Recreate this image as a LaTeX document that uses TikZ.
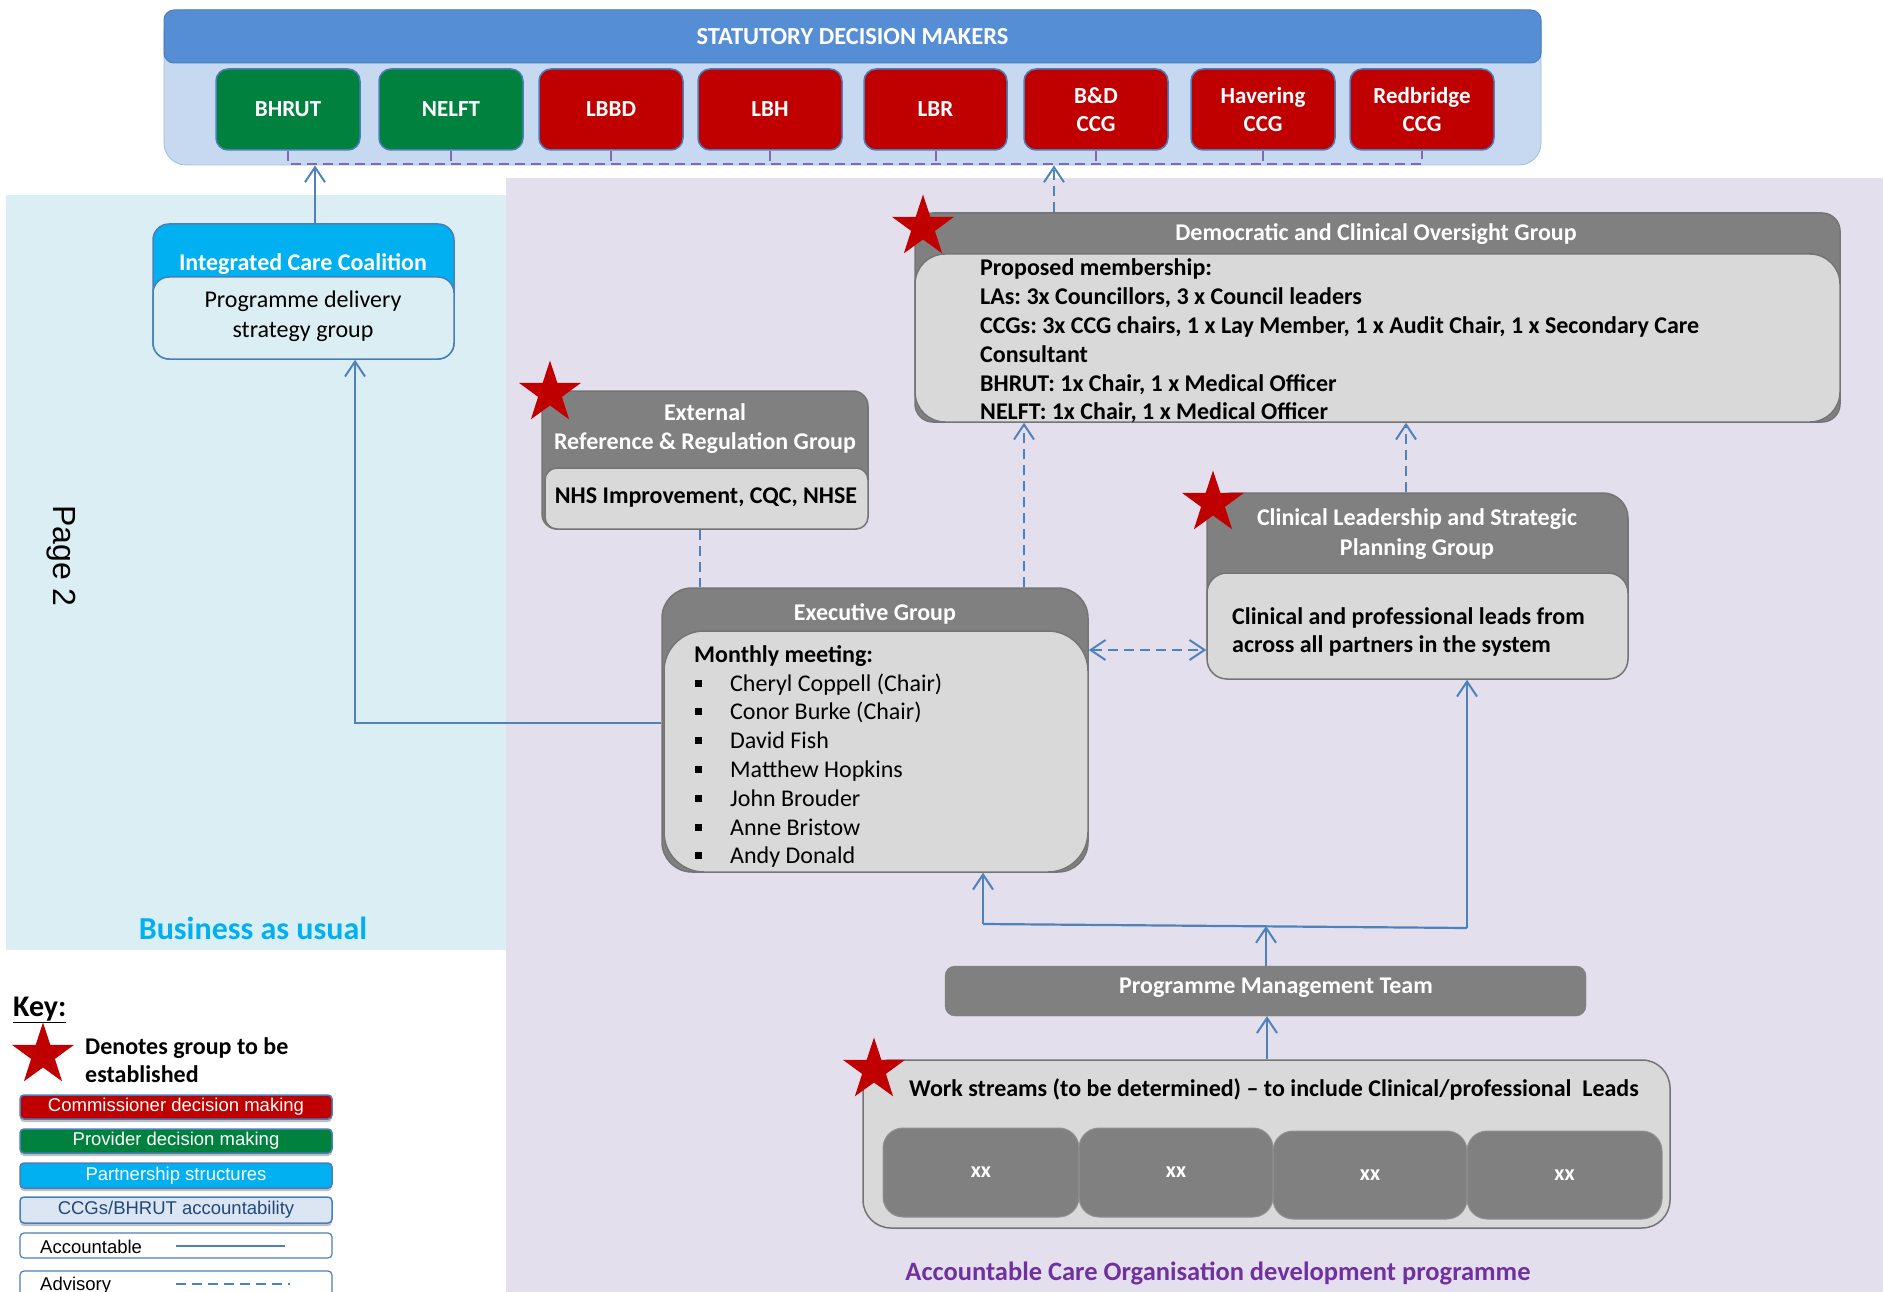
\documentclass[tikz,border=0pt]{standalone}
\usepackage{fontspec}
\setmainfont{Carlito}
\newfontfamily\arialf{Liberation Sans}
\usetikzlibrary{arrows.meta,shapes.geometric,shadows}
\frenchspacing
\definecolor{hdrblue}{HTML}{558ED5}
\definecolor{bannerlight}{HTML}{C6D9F1}
\definecolor{boxgreen}{HTML}{00823E}
\definecolor{boxred}{HTML}{C00000}
\definecolor{edgeblue}{HTML}{4A7EBB}
\definecolor{bauback}{HTML}{DBEEF4}
\definecolor{acoback}{HTML}{E4DFEC}
\definecolor{hdrgray}{HTML}{808080}
\definecolor{innergray}{HTML}{D9D9D9}
\definecolor{edgegray}{HTML}{747474}
\definecolor{cyanfill}{HTML}{00B0F0}
\definecolor{linkblue}{HTML}{4F81BD}
\definecolor{advpurple}{HTML}{7F6AAE}
\definecolor{acopurple}{HTML}{7030A0}
\definecolor{starred}{HTML}{C00000}
\definecolor{ccgfill}{HTML}{DCE6F2}
\definecolor{ccgtext}{HTML}{1F497D}
\newcommand\txtreg{\fontsize{24}{29}\selectfont}
\newcommand\txtbold{\fontsize{24}{29}\selectfont\bfseries}
\newcommand\keyfont{\arialf\fontsize{18.5}{22}\selectfont}
\newcommand\placebox[7]{\node[#6, inner sep=0pt, minimum width={(#4-#2)*1pt}, minimum height={(#5-#3)*1pt}] (#1) at ({(#2+#4)/2},{(#3+#5)/2}) {#7};}
\newcommand\sqbullet{\rule[4.5pt]{7pt}{7pt}}
\tikzset{
  bannerbox/.style={draw=edgeblue, line width=1.5pt, rounded corners=12pt, text=white, font=\fontsize{23}{28}\selectfont\bfseries, align=center},
  greenbox/.style={bannerbox, fill=boxgreen},
  redbox/.style={bannerbox, fill=boxred},
  grayhead/.style={fill=hdrgray, draw=edgegray, line width=1.5pt},
  grayin/.style={fill=innergray, draw=edgegray, line width=1.5pt},
  hdrtext/.style={text=white, font=\txtbold, inner sep=0pt, anchor=base},
  ctext/.style={text=black, font=\txtreg, inner sep=0pt, anchor=base},
  bodytext/.style={text=black, font=\txtreg, inner sep=0pt, anchor=base west},
  boldtext/.style={text=black, font=\txtbold, inner sep=0pt, anchor=base west},
  linkline/.style={draw=linkblue, line width=2.2pt},
  acc/.style={linkline, -{Straight Barb[length=15pt,width=20pt,line width=2pt]}},
  adv/.style={acc, dash pattern=on 10pt off 6pt},
  advboth/.style={linkline, dash pattern=on 10pt off 6pt, {Straight Barb[length=15pt,width=20pt,line width=2pt]}-{Straight Barb[length=15pt,width=20pt,line width=2pt]}},
  advline/.style={linkline, dash pattern=on 10pt off 6pt},
  bandash/.style={draw=advpurple, line width=2pt, dash pattern=on 10pt off 6pt},
  redstar/.style={star, star points=5, star point ratio=2.6, fill=starred, draw=none, minimum size=65pt, inner sep=0pt},
  keybox/.style={draw=edgeblue, line width=1.5pt, rounded corners=4pt, font=\keyfont},
  keyshadow/.style={drop shadow={shadow xshift=0pt, shadow yshift=-3pt, opacity=0.25, fill=black}},
  xxbox/.style={fill=hdrgray, draw=hdrgray!80!innergray, line width=1pt, rounded corners=20pt, text=white, font=\fontsize{22}{26}\selectfont\bfseries},
}
\begin{document}
\begin{tikzpicture}[x=1pt,y=-1pt]
\useasboundingbox (0,0) rectangle (1883,1292);
\fill[white] (0,0) rectangle (1883,1292);
% background regions
\fill[bauback] (6,195) rectangle (506,950);
\fill[acoback] (506,178) rectangle (1883,1292);

% statutory banner
\placebox{banner}{164}{10}{1541}{165}{fill=bannerlight, draw=bannerlight!70!edgeblue, line width=0.8pt, rounded corners=22pt}{}
\placebox{bannerhdr}{164}{10}{1541}{63}{fill=hdrblue, draw=edgeblue, line width=1pt, rounded corners=10pt, text=white, font=\fontsize{24.5}{29}\selectfont\bfseries}{STATUTORY DECISION MAKERS}
\placebox{bhrut}{216}{69}{360}{150}{greenbox}{BHRUT}
\placebox{nelft}{379}{69}{523}{150}{greenbox}{NELFT}
\placebox{lbbd}{539}{69}{683}{150}{redbox}{LBBD}
\placebox{lbh}{698}{69}{842}{150}{redbox}{LBH}
\placebox{lbr}{864}{69}{1007}{150}{redbox}{LBR}
\placebox{bdccg}{1024}{69}{1168}{150}{redbox}{B\&D\\CCG}
\placebox{havccg}{1191}{69}{1335}{150}{redbox}{Havering\\CCG}
\placebox{redccg}{1350}{69}{1494}{150}{redbox}{Redbridge\\CCG}
\draw[bandash] (bhrut.south) -- (bhrut.south |- 0,164) -- (redccg.south |- 0,164) -- (redccg.south);
\foreach \b in {nelft,lbbd,lbh,lbr,bdccg,havccg} \draw[bandash] (\b.south) -- (\b.south |- 0,164);

% Integrated Care Coalition
\placebox{icc}{153}{224}{454}{359}{fill=cyanfill, draw=edgeblue, line width=1.5pt, rounded corners=16pt}{}
\placebox{iccin}{153}{277}{454}{359}{fill=bauback, draw=edgeblue, line width=1.5pt, rounded corners=16pt}{}
\node[hdrtext] (icct) at (303,271) {Integrated Care Coalition};
\node[ctext] (iccb1) at (303,308) {Programme delivery};
\node[ctext] (iccb2) at (303,337) {strategy group};

% Democratic and Clinical Oversight Group
\placebox{dem}{915}{213}{1840}{422}{grayhead, rounded corners=18pt}{}
\placebox{demin}{915}{254}{1840}{422}{grayin, rounded corners=30pt}{}
\node[hdrtext] (demt) at (1376,241) {Democratic and Clinical Oversight Group};
\node[boldtext] (dem1) at (980,276) {Proposed membership:};
\node[boldtext] (dem2) at (980,305) {LAs: 3x Councillors, 3 x Council leaders};
\node[boldtext] (dem3) at (980,333) {CCGs: 3x CCG chairs, 1 x Lay Member, 1 x Audit Chair, 1 x Secondary Care};
\node[boldtext] (dem4) at (980,362) {Consultant};
\node[boldtext] (dem5) at (980,391) {BHRUT: 1x Chair, 1 x Medical Officer};
\node[boldtext] (dem6) at (980,419) {NELFT: 1x Chair, 1 x Medical Officer};

% External Reference & Regulation Group
\placebox{ext}{542}{391}{868}{529}{grayhead, rounded corners=15pt}{}
\placebox{extin}{545}{468}{868}{529}{grayin, rounded corners=12pt}{}
\node[hdrtext] (extt1) at (705,420) {External};
\node[hdrtext] (extt2) at (705,449) {Reference \& Regulation Group};
\node[boldtext, anchor=base] (extb) at (706,503) {NHS Improvement, CQC, NHSE};

% Executive Group
\placebox{exec}{662}{588}{1088}{872}{grayhead, rounded corners=30pt}{}
\placebox{execin}{664}{631}{1088}{872}{grayin, rounded corners=40pt}{}
\node[hdrtext] (exect) at (875,620) {Executive Group};
\node[boldtext] (execm) at (694,662) {Monthly meeting:};
\foreach \nm [count=\i from 0] in {Cheryl Coppell (Chair), Conor Burke (Chair), David Fish, Matthew Hopkins, John Brouder, Anne Bristow, Andy Donald} {
  \node[bodytext] (exbul\i) at (695,{691+28.8*\i}) {\sqbullet};
  \node[bodytext] (exname\i) at (730,{691+28.8*\i}) {\nm};
}

% Clinical Leadership and Strategic Planning Group
\placebox{clin}{1207}{493}{1628}{679}{grayhead, rounded corners=25pt}{}
\placebox{clinin}{1207}{573}{1628}{679}{grayin, rounded corners=20pt}{}
\node[hdrtext] (clint1) at (1417,525) {Clinical Leadership and Strategic};
\node[hdrtext] (clint2) at (1417,555) {Planning Group};
\node[boldtext] (clinb1) at (1232,624) {Clinical and professional leads from};
\node[boldtext] (clinb2) at (1232,652) {across all partners in the system};

% Programme Management Team
\placebox{pmt}{945}{966}{1586}{1016}{fill=hdrgray, draw=hdrgray, rounded corners=10pt}{}
\node[hdrtext] (pmtt) at (1276,993) {Programme Management Team};

% Work streams
\placebox{ws}{863}{1060}{1670}{1228}{grayin, rounded corners=28pt}{}
\node[boldtext] (wst) at (909,1096) {Work streams (to be determined) -- to include Clinical/professional\ \ Leads};
\placebox{xx1}{883}{1128}{1079}{1217}{xxbox}{xx}
\placebox{xx2}{1079}{1128}{1273}{1217}{xxbox}{xx}
\placebox{xx3}{1273}{1131}{1467}{1219}{xxbox}{xx}
\placebox{xx4}{1467}{1131}{1662}{1219}{xxbox}{xx}

% region labels
\node[text=cyanfill, font=\fontsize{32}{38}\selectfont\bfseries, inner sep=0pt, anchor=base] (bau) at (253,939) {Business as usual};
\node[text=acopurple, font=\fontsize{26.5}{32}\selectfont\bfseries, inner sep=0pt, anchor=base] (aco) at (1218,1280) {Accountable Care Organisation development programme};
\node[rotate=-90, font=\arialf\fontsize{32}{38}\selectfont, inner sep=0pt] (page) at (61,556) {Page 2};

% connectors
\draw[acc] (icc.north -| 315,0) -- (banner.south -| 315,0);
\draw[acc] (exec.west |- 0,723) -| (icc.south -| 355,0);
\draw[adv] (dem.north -| 1054,0) -- (banner.south -| 1054,0);
\draw[adv] (exec.north -| 1024,0) -- (dem.south -| 1024,0);
\draw[adv] (clin.north -| 1406,0) -- (dem.south -| 1406,0);
\draw[advboth] (exec.east |- 0,650) -- (clin.west |- 0,650);
\draw[advline] (ext.south -| 700,0) -- (exec.north -| 700,0);
\coordinate (jl) at (983,924);
\coordinate (jc) at (1266,926);
\coordinate (jr) at (1467,928);
\draw[linkline] (jl) -- (jr);
\draw[acc] (pmt.north -| jc) -- (jc);
\draw[acc] (jl) -- (exec.south -| jl);
\draw[acc] (jr) -- (clin.south -| jr);
\draw[acc] (ws.north -| 1267,0) -- (pmt.south -| 1267,0);

% stars
\node[redstar] (stdem) at (923,227) {};
\node[redstar] (stext) at (550,393) {};
\node[redstar] (stclin) at (1213,503) {};
\node[redstar] (stws) at (874,1070) {};

% key
\node[font=\fontsize{30}{36}\selectfont\bfseries, inner sep=0pt, anchor=base west] (keyt) at (13,1016) {\underline{Key:}};
\node[redstar] (keystar) at (43,1055) {};
\node[boldtext] (keyd1) at (85,1054) {Denotes group to be};
\node[boldtext] (keyd2) at (85,1082) {established};
\placebox{kcom}{20}{1095}{332}{1119}{keybox, keyshadow, fill=boxred, text=white}{Commissioner decision making}
\placebox{kprov}{20}{1129}{332}{1153}{keybox, keyshadow, fill=boxgreen, text=white}{Provider decision making}
\placebox{kpart}{20}{1163}{332}{1188}{keybox, keyshadow, fill=cyanfill, text=white}{Partnership structures}
\placebox{kccg}{20}{1197}{332}{1223}{keybox, keyshadow, fill=ccgfill, text=ccgtext}{CCGs/BHRUT accountability}
\placebox{kacc}{20}{1233}{332}{1258}{keybox, fill=white, line width=1.2pt}{}
\node[font=\keyfont, inner sep=0pt, anchor=base west] (kacct) at (40,1253) {Accountable};
\coordinate (ka1) at (176,1246);
\coordinate (ka2) at (285,1246);
\draw[linkline] (ka1) -- (ka2);
\placebox{kadv}{20}{1271}{332}{1312}{keybox, fill=white, line width=1.2pt}{}
\node[font=\keyfont, inner sep=0pt, anchor=base west] (kadvt) at (40,1290) {Advisory};
\coordinate (kb1) at (176,1284);
\coordinate (kb2) at (290,1284);
\draw[advline] (kb1) -- (kb2);
\end{tikzpicture}
\end{document}
